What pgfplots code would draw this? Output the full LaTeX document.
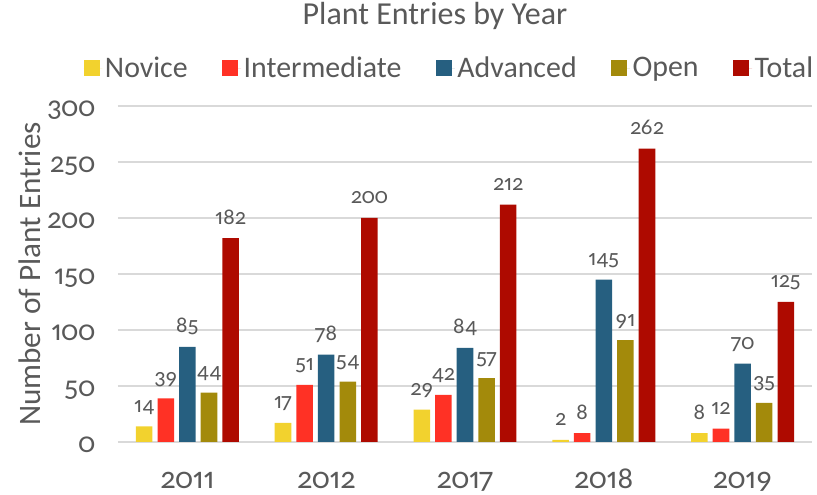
\documentclass[border=0pt]{standalone}
\usepackage{pgfplots}
\pgfplotsset{compat=1.18}
\usepackage{fontspec}
\setmainfont[Numbers={OldStyle,Proportional}]{Carlito}
\definecolor{cnov}{HTML}{F2D22E}
\definecolor{cint}{HTML}{FF3125}
\definecolor{cadv}{HTML}{265F80}
\definecolor{copen}{HTML}{A38A0B}
\definecolor{ctot}{HTML}{AE0A00}
\definecolor{txt}{HTML}{595959}
\definecolor{gridc}{HTML}{D9D9D9}
\begin{document}
\begin{tikzpicture}
\path[use as bounding box] (-88.5pt,-39.75pt) rectangle (524.25pt,331.5pt);
\begin{axis}[
  at={(0pt,0pt)}, anchor=south west,
  scale only axis, width=520.5pt, height=252pt,
  ybar=3.8pt, bar width=12.4pt,
  xmin=-0.5, xmax=4.5, ymin=0, ymax=300,
  xtick={0,1,2,3,4}, xticklabels={2011,2012,2017,2018,2019},
  ytick={0,50,...,300},
  axis line style={draw=none},
  major tick length=0pt,
  ymajorgrids, xmajorgrids=false, grid style={draw=gridc, line width=1.3pt},
  /pgf/number format/assume math mode=true,
  tick label style={text=txt},
  y tick label style={font=\fontsize{22}{26}\selectfont, anchor=base east, inner sep=0pt, xshift=-17pt, yshift=-8pt},
  x tick label style={font=\fontsize{23}{27}\selectfont, anchor=base, inner sep=0pt, yshift=-35pt},
  ylabel={Number of Plant Entries},
  ylabel style={at={(rel axis cs:-0.127,0.5)}, anchor=center, font=\fontsize{23.4}{27}\selectfont, text=txt},
  title={Plant Entries by Year},
  title style={at={(rel axis cs:0.4568,1.2173)}, anchor=base, font=\fontsize{24}{28}\selectfont, text=txt},
  legend style={at={(rel axis cs:0.478,1.113)}, anchor=center, draw=none, fill=none, font=\fontsize{22.4}{26}\selectfont, text=txt, legend columns=5, /tikz/every even column/.append style={column sep=24pt}},
  legend image code/.code={\fill[#1] (0pt,-6pt) rectangle (12pt,6pt); \path (0pt,0pt) -- (14pt,0pt);},
  nodes near coords,
  every node near coord/.append style={font=\fontsize{17}{20}\selectfont, text=txt, anchor=base, inner sep=0pt, yshift=10.5pt},
]
\addplot[fill=cnov, draw=none] coordinates {(0,14) (1,17) (2,29) (3,2) (4,8)};
\addplot[fill=cint, draw=none] coordinates {(0,39) (1,51) (2,42) (3,8) (4,12)};
\addplot[fill=cadv, draw=none] coordinates {(0,85) (1,78) (2,84) (3,145) (4,70)};
\addplot[fill=copen, draw=none] coordinates {(0,44) (1,54) (2,57) (3,91) (4,35)};
\addplot[fill=ctot, draw=none] coordinates {(0,182) (1,200) (2,212) (3,262) (4,125)};
\legend{Novice, Intermediate, Advanced, Open, Total}
\end{axis}
\end{tikzpicture}
\end{document}
